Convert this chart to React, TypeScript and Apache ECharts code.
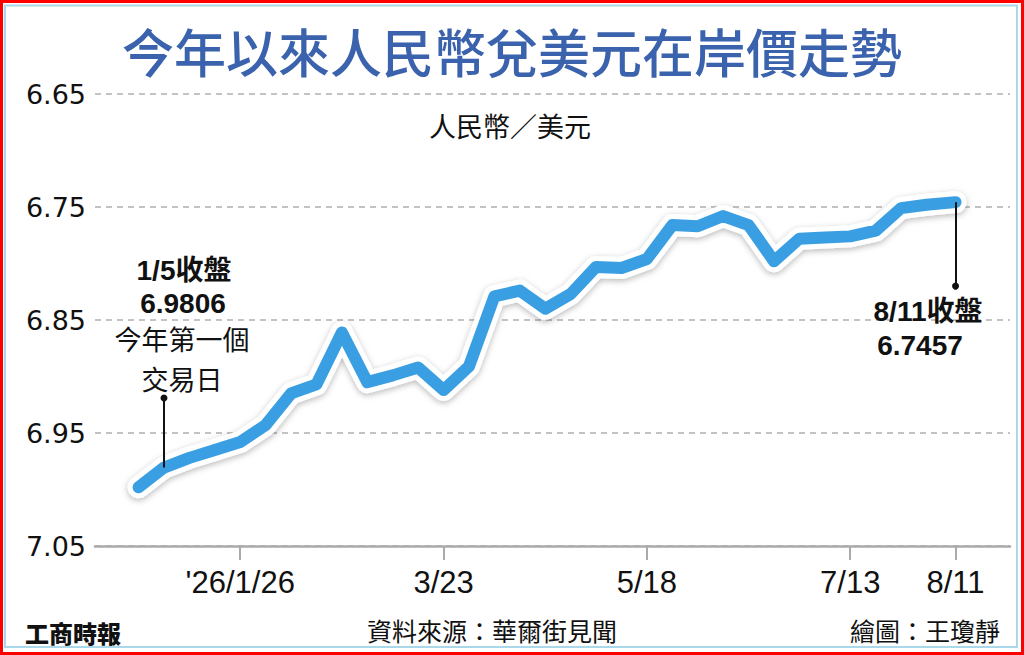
import React, { useEffect, useRef } from 'react';
import * as echarts from 'echarts';

// weekly closes, CNY per USD
const dates = [
  '2025-12-29', '2026-01-05', '2026-01-12', '2026-01-19', '2026-01-26', '2026-02-02',
  '2026-02-09', '2026-02-16', '2026-02-23', '2026-03-02', '2026-03-09', '2026-03-16',
  '2026-03-23', '2026-03-30', '2026-04-06', '2026-04-13', '2026-04-20', '2026-04-27',
  '2026-05-04', '2026-05-11', '2026-05-18', '2026-05-25', '2026-06-01', '2026-06-08',
  '2026-06-15', '2026-06-22', '2026-06-29', '2026-07-06', '2026-07-13', '2026-07-20',
  '2026-07-27', '2026-08-03', '2026-08-11',
];
const rates = [
  6.998, 6.9806, 6.972, 6.965, 6.958, 6.943,
  6.915, 6.907, 6.861, 6.905, 6.899, 6.892,
  6.912, 6.891, 6.829, 6.824, 6.84, 6.827,
  6.803, 6.804, 6.796, 6.766, 6.767, 6.758,
  6.766, 6.798, 6.778, 6.777, 6.776, 6.771,
  6.751, 6.748, 6.7457,
];

const tickDates = ['2026-01-26', '2026-03-23', '2026-05-18', '2026-07-13', '2026-08-11'];
const tickLabels = ["'26/1/26", '3/23', '5/18', '7/13', '8/11'];
const yTicks = [6.65, 6.75, 6.85, 6.95, 7.05];

const firstClose = { date: '2026-01-05', value: 6.9806, pointerTo: 6.919 };
const lastClose = { date: '2026-08-11', value: 6.7457, pointerTo: 6.82 };

const DAY = 86400000;
const dayOf = (d: string) => Math.round((Date.parse(d) - Date.parse(dates[0])) / DAY);

const CJK = "'Noto Sans CJK TC', sans-serif";
const NUM = "'Liberation Sans', 'Noto Sans CJK TC', sans-serif";

const App: React.FC = () => {
  const chartRef = useRef<HTMLDivElement | null>(null);

  useEffect(() => {
    if (!chartRef.current) return;
    const chart = echarts.init(chartRef.current, null, { renderer: 'svg' });

    const points = dates.map((d, i) => [dayOf(d), rates[i]]);
    const tickDays = tickDates.map(dayOf);

    const txt = (
      text: string,
      x: number,
      y: number,
      size: number,
      opts: { align?: string; weight?: any; color?: string; family?: string } = {}
    ) => ({
      type: 'text',
      x,
      y,
      z: 50,
      style: {
        text,
        fill: opts.color || '#111',
        fontSize: size,
        fontWeight: opts.weight || 'normal',
        fontFamily: opts.family || CJK,
        align: opts.align || 'center',
        verticalAlign: 'middle',
      },
    });

    chart.setOption({
      animation: false,
      backgroundColor: '#fff',
      grid: { left: 95, right: 14, top: 94, bottom: 109, containLabel: false },
      xAxis: {
        type: 'value',
        min: -12,
        max: 240,
        axisLine: { show: true, lineStyle: { color: '#aaa', width: 2.5 } },
        axisTick: {
          show: true,
          customValues: tickDays,
          length: 14,
          lineStyle: { color: '#aaa', width: 2 },
        },
        axisLabel: {
          customValues: tickDays,
          margin: 21,
          fontSize: 31,
          color: '#111',
          fontFamily: NUM,
          formatter: (v: number) => {
            const i = tickDays.findIndex((t) => Math.abs(t - v) < 0.5);
            return i >= 0 ? tickLabels[i] : '';
          },
        },
        splitLine: { show: false },
      },
      yAxis: {
        type: 'value',
        inverse: true,
        min: 6.65,
        max: 7.05,
        axisLine: { show: false },
        axisTick: { show: false, customValues: yTicks },
        axisLabel: {
          customValues: yTicks,
          margin: 9,
          fontSize: 27,
          color: '#111',
          fontFamily: "'DejaVu Sans', sans-serif",
          formatter: (v: number) => v.toFixed(2),
        },
        splitLine: { show: true, lineStyle: { color: '#b0b0b0', type: [6, 5], width: 1.5 } },
      },
      series: [
        {
          // white halo under the rate line
          type: 'line',
          data: points,
          symbol: 'none',
          z: 3,
          lineStyle: {
            color: '#fff',
            width: 22,
            cap: 'round',
            join: 'round',
            shadowColor: 'rgba(0,0,0,0.28)',
            shadowBlur: 6,
            shadowOffsetY: 2,
          },
          markLine: {
            silent: true,
            symbol: ['none', 'circle'],
            symbolSize: 7,
            label: { show: false },
            lineStyle: { color: '#111', width: 2, type: 'solid' },
            data: [
              [
                { coord: [dayOf(firstClose.date), firstClose.value] },
                { coord: [dayOf(firstClose.date), firstClose.pointerTo] },
              ],
              [
                { coord: [dayOf(lastClose.date), lastClose.value] },
                { coord: [dayOf(lastClose.date), lastClose.pointerTo] },
              ],
            ],
          },
        },
        {
          type: 'line',
          data: points,
          symbol: 'none',
          z: 4,
          lineStyle: { color: '#3a9fe2', width: 12, cap: 'round', join: 'round' },
        },
      ],
      graphic: [
        {
          type: 'rect',
          z: 60,
          shape: { x: 1.5, y: 1.5, width: 1021, height: 652 },
          style: { fill: 'none', stroke: '#ff0000', lineWidth: 3 },
        },
        {
          type: 'rect',
          z: 60,
          shape: { x: 5, y: 5.5, width: 1012, height: 641.5 },
          style: { fill: 'none', stroke: '#a9d8ea', lineWidth: 2 },
        },
        txt('今年以來人民幣兌美元在岸價走勢', 512, 50, 52, { weight: 500, color: '#3b63ad' }),
        txt('人民幣／美元', 510, 125, 27),
        txt('1/5收盤', 184, 270, 28, { weight: 'bold', family: NUM }),
        txt('6.9806', 183, 303, 28, { weight: 'bold', family: NUM }),
        txt('今年第一個', 182, 338, 27),
        txt('交易日', 182, 378, 27),
        txt('8/11收盤', 928, 311, 28, { weight: 'bold', family: NUM }),
        txt('6.7457', 920, 345, 28, { weight: 'bold', family: NUM }),
        txt('工商時報', 25, 632, 24, { align: 'left', weight: 900 }),
        txt('資料來源：華爾街見聞', 492, 630, 25),
        txt('繪圖：王瓊靜', 1000, 630, 25, { align: 'right' }),
      ],
    });

    return () => {
      chart.dispose();
    };
  }, []);

  return (
    <div
      ref={chartRef}
      style={{ position: 'fixed', left: 0, top: 0, width: 1024, height: 655 }}
    />
  );
};

export default App;
